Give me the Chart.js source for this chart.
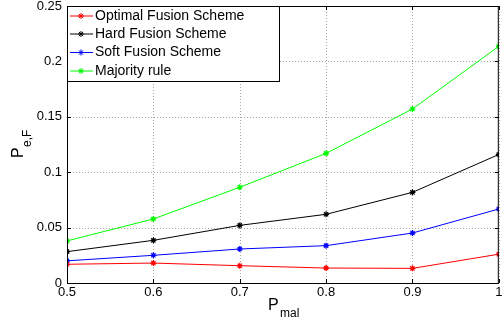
<!DOCTYPE html>
<html>
<head>
<meta charset="utf-8">
<script src="https://cdn.jsdelivr.net/npm/chart.js@4/dist/chart.umd.min.js"></script>
<style>
  html, body { margin: 0; padding: 0; background: #fff; }
  #wrap { width: 504px; height: 322px; position: relative; }
</style>
</head>
<body>
<div id="wrap"><canvas id="ch"></canvas></div>
<script>
// P_mal values on the x axis
const pmal = [0.5, 0.6, 0.7, 0.8, 0.9, 1.0];

const optimal  = [0.0169, 0.0180, 0.0156, 0.0135, 0.0132, 0.0260];
const hard     = [0.0283, 0.0385, 0.0520, 0.0620, 0.0818, 0.1160];
const soft     = [0.0200, 0.0250, 0.0307, 0.0337, 0.0451, 0.0668];
const majority = [0.0380, 0.0578, 0.0864, 0.1170, 0.1570, 0.2136];

const seriesNames = ['Optimal Fusion Scheme', 'Hard Fusion Scheme', 'Soft Fusion Scheme', 'Majority rule'];
const seriesColors = ['#ff0000', '#000000', '#0000ff', '#00ff00'];
const FONT = '"Liberation Sans", Arial, sans-serif';

function pts(vals) {
    return vals.map((v, i) => ({ x: pmal[i], y: v }));
}

// matlab prints 0.1 not 0.10, 1 not 1.0
const fmt = v => String(+v.toFixed(2));

const allSeries = [optimal, hard, soft, majority];
const datasets = allSeries.map((vals, i) => ({
    label: seriesNames[i],
    data: pts(vals),
    borderColor: seriesColors[i],
    backgroundColor: seriesColors[i],
    borderWidth: 1,
    pointStyle: 'star',
    pointRadius: 3,
    pointBorderWidth: 1.2,
    tension: 0,
    fill: false
}));

// dotted grid under the lines
const dottedGrid = {
    id: 'dottedGrid',
    beforeDatasetsDraw(chart) {
        const ctx = chart.ctx;
        const a = chart.chartArea;
        const xs = chart.scales.x, ys = chart.scales.y;
        ctx.save();
        ctx.strokeStyle = '#a8a8a8';
        ctx.lineWidth = 1;
        ctx.setLineDash([1, 2]);
        ctx.beginPath();
        xs.ticks.forEach(t => {
            const px = Math.round(xs.getPixelForValue(t.value)) + 0.5;
            ctx.moveTo(px, a.top); ctx.lineTo(px, a.bottom);
        });
        ys.ticks.forEach(t => {
            const py = Math.round(ys.getPixelForValue(t.value)) + 0.5;
            ctx.moveTo(a.left, py); ctx.lineTo(a.right, py);
        });
        ctx.stroke();
        ctx.restore();
    }
};

// MATLAB style box, inward ticks, legend and labels with subscripts
const matlabLook = {
    id: 'matlabLook',
    afterDraw(chart) {
        const ctx = chart.ctx;
        const a = chart.chartArea;
        const xs = chart.scales.x, ys = chart.scales.y;
        ctx.save();
        ctx.strokeStyle = '#000';
        ctx.lineWidth = 1;
        ctx.strokeRect(a.left + 0.5, a.top + 0.5, a.right - a.left - 1, a.bottom - a.top);

        // inward ticks on all four sides
        ctx.beginPath();
        xs.ticks.forEach(t => {
            const px = Math.round(xs.getPixelForValue(t.value)) + 0.5;
            ctx.moveTo(px, a.bottom); ctx.lineTo(px, a.bottom - 4);
            ctx.moveTo(px, a.top); ctx.lineTo(px, a.top + 4);
        });
        ys.ticks.forEach(t => {
            const py = Math.round(ys.getPixelForValue(t.value)) + 0.5;
            ctx.moveTo(a.left, py); ctx.lineTo(a.left + 4, py);
            ctx.moveTo(a.right, py); ctx.lineTo(a.right - 4, py);
        });
        ctx.stroke();

        // legend box
        const lx = a.left, ly = a.top, lw = 279 - a.left, lh = 81 - a.top;
        ctx.fillStyle = '#fff';
        ctx.fillRect(lx, ly, lw, lh);
        ctx.strokeRect(lx + 0.5, ly + 0.5, lw, lh);
        ctx.font = '14px ' + FONT;
        ctx.textBaseline = 'middle';
        ctx.textAlign = 'left';
        const rowY = [16, 34, 52.5, 71];
        seriesNames.forEach((name, i) => {
            const y = rowY[i];
            ctx.strokeStyle = seriesColors[i];
            ctx.beginPath();
            ctx.moveTo(lx + 3, y); ctx.lineTo(lx + 26, y);
            ctx.stroke();
            Chart.helpers.drawPoint(ctx, { pointStyle: 'star', radius: 3, borderWidth: 1.2 }, lx + 14, y);
            ctx.fillStyle = '#000';
            ctx.fillText(name, lx + 28, y);
        });

        // x label P_mal
        ctx.fillStyle = '#000';
        ctx.textBaseline = 'alphabetic';
        ctx.font = '16px ' + FONT;
        ctx.fillText('P', 268, 310);
        ctx.font = '12px ' + FONT;
        ctx.fillText('mal', 280, 317);

        // y label P_e,F
        ctx.translate(23, 158);
        ctx.rotate(-Math.PI / 2);
        ctx.font = '16px ' + FONT;
        ctx.fillText('P', 0, 0);
        ctx.font = '12px ' + FONT;
        ctx.fillText('e,F', 11, 8);
        ctx.restore();
    }
};

new Chart(document.getElementById('ch'), {
    type: 'line',
    data: { datasets: datasets },
    options: {
        responsive: true,
        maintainAspectRatio: false,
        animation: false,
        layout: { padding: { top: 6, right: 2, left: 0, bottom: 0 } },
        scales: {
            x: {
                type: 'linear', min: 0.5, max: 1,
                afterFit: s => { s.height = 39; s.paddingLeft = 0; s.paddingRight = 0; },
                ticks: { stepSize: 0.1, color: '#000', padding: 2, callback: fmt, font: { family: FONT, size: 13 } },
                grid: { display: false, drawTicks: false },
                border: { display: false }
            },
            y: {
                min: 0, max: 0.25,
                afterFit: s => { s.width = 67; s.paddingTop = 0; s.paddingBottom = 0; },
                ticks: { stepSize: 0.05, color: '#000', padding: 5, callback: fmt, font: { family: FONT, size: 13 } },
                grid: { display: false, drawTicks: false },
                border: { display: false }
            }
        },
        plugins: {
            legend: { display: false },
            tooltip: { enabled: false }
        }
    },
    plugins: [dottedGrid, matlabLook]
});
</script>
</body>
</html>
